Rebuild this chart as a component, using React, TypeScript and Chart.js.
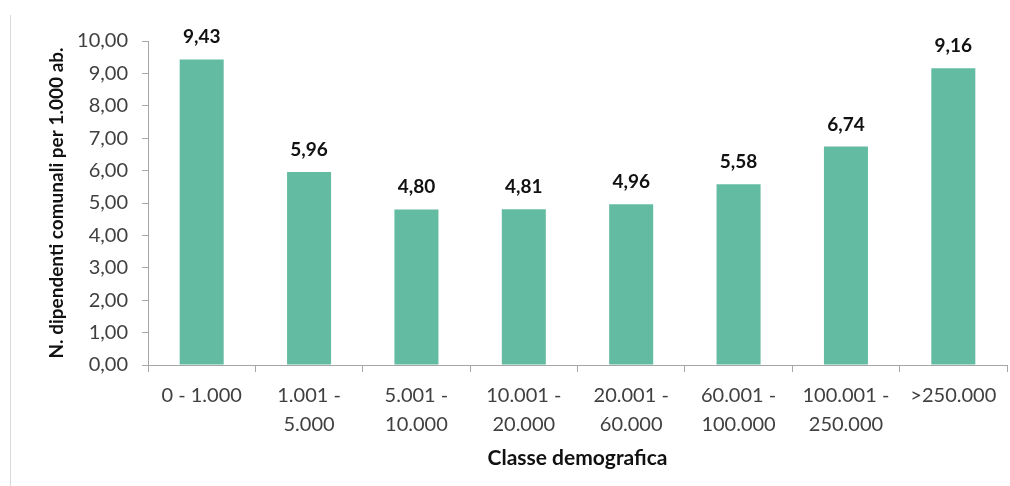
import React, { useEffect, useRef } from "react";
import { Chart, registerables } from "chart.js";

Chart.register(...registerables);

const categories: (string | string[])[] = [
  "0 - 1.000",
  ["1.001 -", "5.000"],
  ["5.001 -", "10.000"],
  ["10.001 -", "20.000"],
  ["20.001 -", "60.000"],
  ["60.001 -", "100.000"],
  ["100.001 -", "250.000"],
  ">250.000",
];
const values: number[] = [9.43, 5.96, 4.8, 4.81, 4.96, 5.58, 6.74, 9.16];
const yTitle = "N. dipendenti comunali per 1.000 ab.";
const xTitle = "Classe demografica";

const fmt = (v: number) => v.toFixed(2).replace(".", ",");

const valueLabels = {
  id: "valueLabels",
  afterDatasetsDraw(chart: any) {
    const ctx = chart.ctx;
    const meta = chart.getDatasetMeta(0);
    ctx.save();
    ctx.font = "bold 19px Lato";
    ctx.fillStyle = "#111111";
    ctx.textAlign = "center";
    ctx.textBaseline = "alphabetic";
    meta.data.forEach((bar: any, i: number) => {
      ctx.fillText(fmt(values[i]), bar.x, bar.y - 16);
    });
    ctx.restore();
  },
};

export default function App() {
  const ref = useRef<HTMLCanvasElement | null>(null);
  useEffect(() => {
    if (!ref.current) return;
    Chart.defaults.font.family = "Lato";
    const axisColor = "#a6a6a6";
    const chart = new Chart(ref.current, {
      type: "bar",
      data: {
        labels: categories,
        datasets: [
          {
            data: values,
            backgroundColor: "#63bca1",
            barPercentage: 0.41,
            categoryPercentage: 1.0,
          },
        ],
      },
      options: {
        responsive: false,
        animation: false,
        devicePixelRatio: 1,
        layout: { padding: { left: 45, right: 3, top: 41, bottom: 11 } },
        plugins: { legend: { display: false }, tooltip: { enabled: false } },
        scales: {
          x: {
            grid: {
              offset: true,
              drawOnChartArea: false,
              drawTicks: true,
              tickLength: 7,
              color: axisColor,
            },
            border: { display: true, color: axisColor, width: 1 },
            ticks: {
              color: "#404040",
              font: { size: 20, lineHeight: 1.45 },
              padding: 9,
              maxRotation: 0,
              minRotation: 0,
              autoSkip: false,
            },
            title: {
              display: true,
              text: xTitle,
              color: "#111111",
              font: { size: 21, weight: "bold" },
              padding: { top: 10, bottom: 4 },
            },
            afterFit: (scale: any) => {
              scale.height = 110;
            },
          },
          y: {
            min: 0,
            max: 10,
            grid: {
              drawOnChartArea: false,
              drawTicks: true,
              tickLength: 6,
              color: axisColor,
            },
            border: { display: true, color: axisColor, width: 1 },
            ticks: {
              stepSize: 1,
              color: "#404040",
              font: { size: 20 },
              padding: 14,
              callback: (v: any) => fmt(Number(v)),
            },
            title: {
              display: true,
              text: yTitle,
              color: "#111111",
              font: { size: 19, weight: "bold" },
              padding: { top: 0, bottom: 0 },
            },
            afterFit: (scale: any) => {
              scale.width = 103;
            },
          },
        },
      },
      plugins: [valueLabels],
    });
    return () => chart.destroy();
  }, []);

  return (
    <div style={{ position: "absolute", left: 0, top: 0, width: 1010, height: 486, background: "#fff" }}>
      <div
        style={{
          position: "absolute",
          left: 10,
          top: 15,
          width: 0,
          height: 471,
          borderLeft: "1px solid #d9d9d9",
        }}
      />
      <canvas ref={ref} width={1010} height={486} style={{ display: "block", position: "absolute", left: 0, top: 0 }} />
    </div>
  );
}
